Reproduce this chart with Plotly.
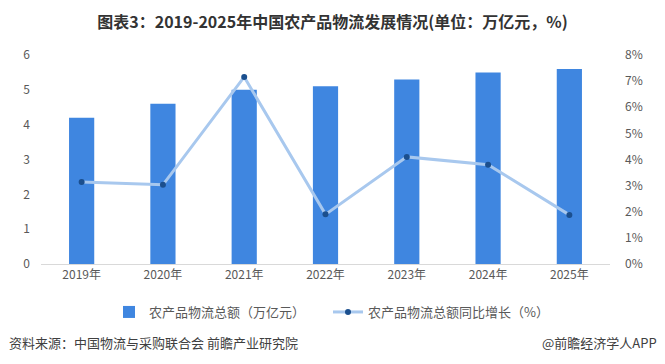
import plotly.graph_objects as go

years = ["2019年", "2020年", "2021年", "2022年", "2023年", "2024年", "2025年"]
total = [4.2, 4.6, 5.0, 5.1, 5.3, 5.5, 5.6]
growth = [3.14, 3.03, 7.16, 1.9, 4.1, 3.8, 1.88]

bar_name = "农产品物流总额（万亿元）"
line_name = "农产品物流总额同比增长（%）"

font_cn = "Noto Sans CJK SC"
PH = 209.0
PW = 569.0

fig = go.Figure()
fig.add_trace(go.Bar(
    x=years, y=total, name=bar_name,
    marker=dict(color="#3F86E0", line=dict(width=0)),
    width=0.31,
))
fig.add_trace(go.Scatter(
    x=years, y=growth, name=line_name, yaxis="y2",
    mode="lines+markers",
    line=dict(color="#A8C8EE", width=3),
    marker=dict(color="#1B4F8E", size=6),
))

fig.update_layout(
    width=665, height=364,
    margin=dict(l=41, r=55, t=55, b=100, autoexpand=False),
    paper_bgcolor="white", plot_bgcolor="white",
    font=dict(family=font_cn, color="#595959", size=12),
    showlegend=True,
    legend=dict(orientation="h", x=(109 - 41) / PW, xanchor="left",
                y=-(312 - 264) / PH, yanchor="middle",
                font=dict(size=13, color="#595959"), itemwidth=30, tracegroupgap=0,
                entrywidth=174),
    title=dict(text="<b>图表3：2019-2025年中国农产品物流发展情况(单位：万亿元，%)</b>",
               x=0.5, xanchor="center", y=1 - 22 / 364, yanchor="middle",
               font=dict(family=font_cn, size=16, color="#333333")),
    xaxis=dict(showline=True, linecolor="#D9D9D9", linewidth=1, ticks="",
               tickfont=dict(size=12, color="#595959"), showgrid=False),
    yaxis=dict(range=[0, 6], dtick=1, showgrid=False, zeroline=False, showline=False,
               tickfont=dict(size=12, color="#595959"), ticklabelstandoff=10),
    yaxis2=dict(range=[0, 8], dtick=1, overlaying="y", side="right", showgrid=False,
                zeroline=False, showline=False, ticksuffix="%",
                tickfont=dict(size=12, color="#595959"), ticklabelstandoff=14),
    bargap=0.69,
)

fig.add_annotation(text="资料来源：中国物流与采购联合会 前瞻产业研究院", xref="paper", yref="paper",
                   x=(7 - 41) / PW, y=-(342 - 264) / PH, xanchor="left", yanchor="middle",
                   showarrow=False, font=dict(size=13, color="#404040"))
fig.add_annotation(text="@前瞻经济学人APP", xref="paper", yref="paper",
                   x=(659 - 41) / PW, y=-(342 - 264) / PH, xanchor="right", yanchor="middle",
                   showarrow=False, font=dict(size=13, color="#404040"))

fig.write_html("out.html", config={"displayModeBar": False},
               post_script="document.body.style.margin='0';")
